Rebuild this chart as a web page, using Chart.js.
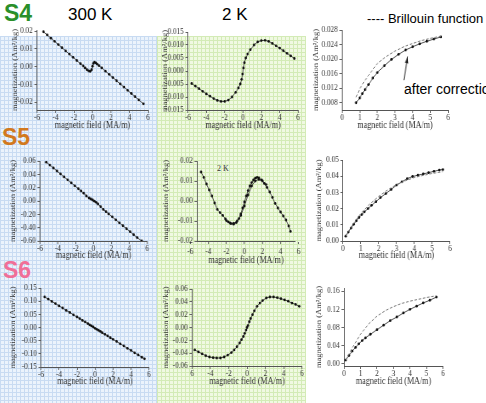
<!DOCTYPE html>
<html lang="en">
<head>
<meta charset="UTF-8">
<title>Magnetization S4 / S5 / S6</title>
<script src="https://cdn.jsdelivr.net/npm/chart.js"></script>
<style>
  body { margin: 0; width: 486px; height: 403px; position: relative; overflow: hidden; background: #fff; font-family: 'Liberation Sans', Arial, sans-serif; }
  .bg { position: absolute; top: 36px; bottom: 0; }
  #bgBlue { left: 0; width: 157px; background-color: #ebf3fc;
    background-image: linear-gradient(#c8dbf2 1px, transparent 1px), linear-gradient(90deg, #c8dbf2 1px, transparent 1px);
    background-size: 4px 4px; }
  #bgGreen { left: 157px; width: 149px; background-color: #f0f9e2;
    background-image: linear-gradient(#d3ebb6 1px, transparent 1px), linear-gradient(90deg, #d3ebb6 1px, transparent 1px);
    background-size: 4px 4px; }
  .lbl { position: absolute; white-space: nowrap; line-height: 1; }
  .big { font-size: 23px; font-weight: bold; }
  .head { font-size: 17px; color: #000; }
  .note { font-size: 13px; color: #000; }
  canvas { position: absolute; transform-origin: 0 0; }
</style>
</head>
<body>
<div class="bg" id="bgBlue"></div>
<div class="bg" id="bgGreen"></div>

<div class="lbl big" style="left:4px;top:2px;color:#2a8f2a">S4</div>
<div class="lbl big" style="left:2px;top:126px;color:#d2791e">S5</div>
<div class="lbl big" style="left:3px;top:259px;color:#f06f98">S6</div>
<div class="lbl head" style="left:68px;top:6px">300 K</div>
<div class="lbl head" style="left:222px;top:6px">2 K</div>
<div class="lbl note" style="left:367px;top:12px">---- Brillouin function</div>
<div class="lbl note" style="left:404px;top:82px;font-size:14px">after correction</div>
<div class="lbl" style="left:217px;top:164px;font:8px 'Liberation Serif',serif;color:#333">2 K</div>

<script>
// ---- tick values and labels ----
var fieldTicks = [-6, -4, -2, 0, 2, 4, 6];
var fieldLabels = ['-6', '-4', '-2', '0', '2', '4', '6'];
var fieldLabelsS6 = ['6', '-4', '-2', '0', '2', '4', '6'];
var posTicks = [0, 1, 2, 3, 4, 5, 6];
var posLabels = ['0', '1', '2', '3', '4', '5', '6'];

var s4WarmTicks = [0.02, 0.01, 0, -0.01, -0.02];
var s4WarmLabels = ['0.02', '0.01', '0.00', '-0.01', '-0.02'];
var s4ColdTicks = [0.015, 0.01, 0.005, 0, -0.005, -0.01, -0.015];
var s4ColdLabels = ['0.015', '0.010', '0.005', '0.000', '-0.005', '-0.010', '-0.015'];
var s4CorrTicks = [0.008, 0.012, 0.016, 0.020, 0.024, 0.028];
var s4CorrLabels = ['0.008', '0.012', '0.016', '0.020', '0.024', '0.028'];

var s5WarmTicks = [0.06, 0.04, 0.02, 0, -0.02, -0.04, -0.06];
var s5WarmLabels = ['0.06', '0.04', '0.02', '0.00', '-0.20', '-0.40', '-0.60'];
var s5ColdTicks = [0.02, 0.01, 0, -0.01, -0.02];
var s5ColdLabels = ['0.02', '0.01', '0.00', '-0.01', '-0.02'];
var s5CorrTicks = [0, 0.01, 0.02, 0.03, 0.04, 0.05];
var s5CorrLabels = ['0.00', '0.01', '0.02', '0.03', '0.04', '0.05'];

var s6WarmTicks = [0.15, 0.1, 0.05, 0, -0.05, -0.1, -0.15];
var s6WarmLabels = ['0.15', '0.10', '0.05', '0.00', '-0.05', '-0.10', '-0.15'];
var s6ColdTicks = [0.06, 0.04, 0.02, 0, -0.02, -0.04, -0.06];
var s6ColdLabels = ['0.06', '0.04', '0.02', '0.00', '-0.02', '-0.04', '-0.06'];
var s6CorrTicks = [0, 0.04, 0.08, 0.12, 0.16];
var s6CorrLabels = ['0.00', '0.04', '0.08', '0.12', '0.16'];

// ---- S4 ----
var s4WarmX = [-5.3,-4.9,-4.5,-4.1,-3.7,-3.3,-2.9,-2.5,-2.1,-1.7,-1.3,-1.0,-0.8,-0.6,-0.4,-0.25,-0.1,0.0,0.1,0.2,0.35,0.5,0.7,1.0,1.4,1.8,2.2,2.6,3.0,3.4,3.8,4.2,4.6,5.0,5.5];
var s4WarmY = [0.0196,0.0178,0.0160,0.0142,0.0124,0.0106,0.0088,0.0070,0.0052,0.0034,0.0016,0.0003,-0.0008,-0.0018,-0.0025,-0.0027,-0.0018,0.0002,0.0018,0.0025,0.0021,0.0014,0.0005,-0.0008,-0.0026,-0.0044,-0.0062,-0.0080,-0.0098,-0.0116,-0.0134,-0.0152,-0.0170,-0.0188,-0.0210];

var s4ColdX = [-5.6,-5.2,-4.8,-4.4,-4.0,-3.6,-3.2,-2.8,-2.4,-2.0,-1.6,-1.2,-0.8,-0.5,-0.3,-0.15,-0.05,0.05,0.15,0.3,0.5,0.8,1.2,1.6,2.0,2.4,2.8,3.2,3.6,4.0,4.4,4.8,5.2,5.6];
var s4ColdY = [-0.0048,-0.0058,-0.0068,-0.0078,-0.0088,-0.0097,-0.0106,-0.0113,-0.0117,-0.0117,-0.0112,-0.0100,-0.0082,-0.0065,-0.0050,-0.0032,-0.0012,0.0012,0.0032,0.0050,0.0065,0.0082,0.0100,0.0112,0.0117,0.0118,0.0114,0.0106,0.0097,0.0088,0.0078,0.0068,0.0058,0.0048];

var s4CorrX = [0.8,1.0,1.15,1.3,1.5,1.75,2.0,2.4,2.8,3.2,3.6,4.0,4.4,4.8,5.2,5.6];
var s4CorrY = [0.0080,0.0093,0.0105,0.0116,0.0130,0.0148,0.0163,0.0182,0.0199,0.0213,0.0225,0.0234,0.0242,0.0249,0.0255,0.0261];
var s4BrilX = [0.8,1.0,1.25,1.5,2.0,2.5,3.0,3.5,4.0,4.5,5.0,5.7];
var s4BrilY = [0.0095,0.0118,0.0138,0.0155,0.0188,0.0207,0.0222,0.0234,0.0243,0.0251,0.0257,0.0264];
var arrowFrom = [3.5, 0.0142];
var arrowTo = [3.72, 0.0207];

// ---- S5 ----
var s5WarmX = [-5.3,-4.9,-4.5,-4.1,-3.7,-3.3,-2.9,-2.5,-2.1,-1.7,-1.4,-1.1,-0.8,-0.5,-0.3,-0.1,0.1,0.3,0.5,0.8,1.1,1.4,1.7,2.1,2.5,2.9,3.3,3.7,4.1,4.5,4.9,5.4];
var s5WarmY = [0.0583,0.0539,0.0495,0.0450,0.0406,0.0361,0.0317,0.0273,0.0228,0.0184,0.0150,0.0117,0.0075,0.0045,0.0030,0.0015,-0.0002,-0.0020,-0.0045,-0.0085,-0.0127,-0.0160,-0.0194,-0.0238,-0.0283,-0.0327,-0.0371,-0.0416,-0.0460,-0.0505,-0.0549,-0.0600];

var s5ColdX = [-4.8,-4.5,-4.2,-3.9,-3.6,-3.3,-3.0,-2.7,-2.4,-2.1,-1.8,-1.5,-1.2,-0.9,-0.6,-0.4,-0.2,0.0,0.2,0.4,0.6,0.8,1.0,1.2,1.4,1.6,1.9,2.2,2.5,2.8,3.1,3.4,3.7,4.0,4.3,4.6,4.9,5.1];
var s5ColdY = [0.0145,0.0118,0.0085,0.0055,0.0025,-0.0010,-0.0042,-0.0058,-0.0072,-0.0090,-0.0104,-0.0113,-0.0116,-0.0108,-0.0088,-0.0065,-0.0035,-0.0005,0.0025,0.0052,0.0075,0.0092,0.0105,0.0114,0.0118,0.0116,0.0105,0.0088,0.0068,0.0045,0.0018,-0.0012,-0.0035,-0.0055,-0.0075,-0.0095,-0.0125,-0.0152];
var s5BackX = [-2.0,-1.6,-1.2,-0.8,-0.4,0.0,0.4,0.8,1.2,1.6,2.0,2.4];
var s5BackY = [-0.0098,-0.0110,-0.0112,-0.0100,-0.0072,-0.0025,0.0030,0.0075,0.0100,0.0108,0.0100,0.0082];

var s5CorrX = [0.15,0.3,0.45,0.6,0.75,0.9,1.05,1.2,1.4,1.6,1.85,2.1,2.4,2.7,3.0,3.3,3.6,3.9,4.2,4.5,4.8,5.1,5.4,5.6];
var s5CorrY = [0.0030,0.0055,0.0080,0.0103,0.0125,0.0145,0.0163,0.0180,0.0200,0.0220,0.0243,0.0268,0.0293,0.0318,0.0345,0.0365,0.0385,0.0398,0.0406,0.0414,0.0422,0.0430,0.0438,0.0441];
var s5BrilX = [0.15,0.5,1.0,1.5,2.0,2.5,3.0,3.5,4.0,4.5,5.0,5.6];
var s5BrilY = [0.0032,0.0095,0.0170,0.0228,0.0275,0.0315,0.0348,0.0372,0.0392,0.0405,0.0417,0.0428];

// ---- S6 ----
var s6WarmX = [-5.6,-5.2,-4.8,-4.4,-4.0,-3.6,-3.2,-2.8,-2.4,-2.0,-1.7,-1.4,-1.1,-0.8,-0.6,-0.4,-0.2,0.0,0.2,0.4,0.6,0.8,1.1,1.4,1.7,2.0,2.4,2.8,3.2,3.6,4.0,4.4,4.8,5.2,5.5];
var s6WarmY = [0.116,0.108,0.099,0.091,0.082,0.074,0.065,0.057,0.048,0.040,0.034,0.027,0.021,0.015,0.010,0.006,0.002,-0.003,-0.007,-0.011,-0.015,-0.020,-0.026,-0.032,-0.039,-0.045,-0.053,-0.062,-0.070,-0.079,-0.087,-0.096,-0.104,-0.113,-0.119];

var s6ColdX = [-5.7,-5.3,-4.9,-4.5,-4.1,-3.7,-3.3,-2.9,-2.5,-2.1,-1.7,-1.4,-1.1,-0.8,-0.6,-0.4,-0.25,-0.1,0.0,0.1,0.25,0.4,0.6,0.8,1.1,1.4,1.7,2.1,2.5,2.9,3.3,3.7,4.1,4.5,4.9,5.3,5.7];
var s6ColdY = [-0.035,-0.038,-0.041,-0.044,-0.046,-0.047,-0.0475,-0.0475,-0.046,-0.043,-0.039,-0.035,-0.030,-0.024,-0.019,-0.014,-0.009,-0.004,0.000,0.003,0.009,0.014,0.020,0.026,0.033,0.038,0.042,0.046,0.0475,0.0475,0.0465,0.045,0.043,0.041,0.038,0.036,0.033];

var s6CorrX = [0.1,0.3,0.5,0.7,0.9,1.1,1.3,1.6,2.0,2.4,2.8,3.2,3.6,4.0,4.4,4.8,5.2,5.6];
var s6CorrY = [0.008,0.018,0.028,0.036,0.044,0.051,0.057,0.065,0.075,0.085,0.095,0.103,0.112,0.120,0.127,0.134,0.140,0.147];
var s6BrilX = [0.1,0.5,1.0,1.5,2.0,2.5,3.0,3.5,4.0,4.5,5.0,5.6];
var s6BrilY = [0.008,0.035,0.065,0.088,0.105,0.117,0.126,0.133,0.138,0.142,0.146,0.150];

Chart.defaults.font.family = "'Liberation Serif', 'DejaVu Serif', serif";
Chart.defaults.color = '#333';

// the source figure is squeezed sideways, so each canvas is drawn wider and scaled back
var SX = 0.85;

function pts(xs, ys) {
    return xs.map(function (x, i) { return { x: x, y: ys[i] } })
}

function measured(xs, ys) {
    return {
        data: pts(xs, ys), showLine: true, borderColor: '#222', borderWidth: 0.8,
        pointRadius: 1.4, pointBackgroundColor: '#111', pointBorderWidth: 0
    }
}

function brillouin(xs, ys) {
    return {
        data: pts(xs, ys), showLine: true, borderColor: '#777', borderWidth: 1,
        borderDash: [3, 2], pointRadius: 0
    }
}

var arrowPlugin = {
    id: 'arrow',
    afterDatasetsDraw: function (chart) {
        var c = chart.ctx, sx = chart.scales.x, sy = chart.scales.y;
        var x0 = sx.getPixelForValue(arrowFrom[0]), y0 = sy.getPixelForValue(arrowFrom[1]);
        var x1 = sx.getPixelForValue(arrowTo[0]), y1 = sy.getPixelForValue(arrowTo[1]);
        var a = Math.atan2(y1 - y0, x1 - x0);
        c.save();
        c.strokeStyle = '#222'; c.fillStyle = '#222'; c.lineWidth = 1;
        c.beginPath(); c.moveTo(x0, y0); c.lineTo(x1, y1); c.stroke();
        c.beginPath();
        c.moveTo(x1, y1);
        c.lineTo(x1 - 7 * Math.cos(a - 0.3), y1 - 7 * Math.sin(a - 0.3));
        c.lineTo(x1 - 7 * Math.cos(a + 0.3), y1 - 7 * Math.sin(a + 0.3));
        c.closePath(); c.fill();
        c.restore();
    }
}

// box: plot area on the page (L,T,R,B), y title centre x, x label centre y, x title centre y
function panel(box, xRange, xTicks, xLabels, yRange, yTicks, yLabels, datasets, extra) {
    var cv = document.createElement('canvas');
    var left = Math.round(box.yt - 4.3);
    var top = Math.round(box.T - 8);
    var cw = Math.round((box.R + 10 - left) / SX);
    var h = Math.round(box.xt + 5 - top);
    cv.width = cw; cv.height = h;
    cv.style.left = left + 'px'; cv.style.top = top + 'px';
    cv.style.transform = 'scaleX(' + SX + ')';
    document.body.appendChild(cv);
    var yW = (box.L - left) / SX;
    var xH = h - (box.B - top);
    var xPad = Math.max(0, Math.round(box.xl - box.B - 8));

    new Chart(cv, {
        type: 'scatter',
        data: { datasets: datasets },
        options: {
            responsive: false, animation: false, devicePixelRatio: 1,
            layout: { padding: { top: box.T - top, right: cw - (box.R - left) / SX, left: 0, bottom: 0 } },
            plugins: { legend: { display: false }, tooltip: { enabled: false } },
            scales: {
                x: {
                    type: 'linear', min: xRange[0], max: xRange[1],
                    afterBuildTicks: function (s) { s.ticks = xTicks.map(function (v) { return { value: v } }) },
                    afterFit: function (s) { s.height = xH },
                    ticks: { autoSkip: false, maxRotation: 0, padding: xPad, font: { size: 8.5 },
                        callback: function (v, i) { return xLabels[i] } },
                    grid: { drawOnChartArea: false, tickLength: 3, color: '#666' },
                    border: { color: '#555' },
                    title: { display: true, text: 'magnetic field (MA/m)', font: { size: 9.5 }, padding: 0 }
                },
                y: {
                    type: 'linear', min: yRange[0], max: yRange[1],
                    afterBuildTicks: function (s) { s.ticks = yTicks.map(function (v) { return { value: v } }) },
                    afterFit: function (s) { s.width = yW },
                    ticks: { autoSkip: false, padding: 2, font: { size: 8.5 },
                        callback: function (v, i) { return yLabels[i] } },
                    grid: { drawOnChartArea: false, tickLength: 3, color: '#666' },
                    border: { color: '#555' },
                    title: { display: true, text: 'magnetization (Am²/kg)', font: { size: 8.5 }, padding: 0 }
                }
            }
        },
        plugins: extra ? [extra] : []
    })
}

// row S4
panel({ L: 37, T: 30, R: 148, B: 110, yt: 15, xl: 118, xt: 126 }, [-6, 6], fieldTicks, fieldLabels,
    [-0.0245, 0.0206], s4WarmTicks, s4WarmLabels, [measured(s4WarmX, s4WarmY)]);
panel({ L: 188, T: 32, R: 298, B: 110, yt: 165, xl: 118, xt: 126 }, [-6, 6], fieldTicks, fieldLabels,
    [-0.015, 0.015], s4ColdTicks, s4ColdLabels, [measured(s4ColdX, s4ColdY)]);
panel({ L: 342, T: 30, R: 448, B: 110, yt: 316, xl: 118, xt: 126 }, [0, 6], posTicks, posLabels,
    [0.006, 0.028], s4CorrTicks, s4CorrLabels, [brillouin(s4BrilX, s4BrilY), measured(s4CorrX, s4CorrY)], arrowPlugin);

// row S5
panel({ L: 40, T: 161, R: 147, B: 241, yt: 13, xl: 249, xt: 256 }, [-6, 6], fieldTicks, fieldLabels,
    [-0.06, 0.06], s5WarmTicks, s5WarmLabels, [measured(s5WarmX, s5WarmY)]);
panel({ L: 197, T: 161, R: 295, B: 241, yt: 166, xl: 252, xt: 261 }, [-5.25, 5.6], fieldTicks, fieldLabels,
    [-0.02, 0.02], s5ColdTicks, s5ColdLabels, [measured(s5ColdX, s5ColdY), measured(s5BackX, s5BackY)]);
panel({ L: 343, T: 160, R: 450, B: 241, yt: 319, xl: 249, xt: 256 }, [0, 6], posTicks, posLabels,
    [0, 0.05], s5CorrTicks, s5CorrLabels, [brillouin(s5BrilX, s5BrilY), measured(s5CorrX, s5CorrY)]);

// row S6
panel({ L: 41, T: 288, R: 149, B: 367, yt: 13, xl: 375, xt: 382 }, [-6, 6], fieldTicks, fieldLabels,
    [-0.15, 0.15], s6WarmTicks, s6WarmLabels, [measured(s6WarmX, s6WarmY)]);
panel({ L: 192, T: 289, R: 302, B: 366, yt: 166, xl: 374, xt: 382 }, [-6, 6], fieldTicks, fieldLabelsS6,
    [-0.06, 0.06], s6ColdTicks, s6ColdLabels, [measured(s6ColdX, s6ColdY)]);
panel({ L: 344, T: 288, R: 443, B: 366, yt: 319, xl: 374, xt: 382 }, [0, 6], posTicks, posLabels,
    [-0.005, 0.167], s6CorrTicks, s6CorrLabels, [brillouin(s6BrilX, s6BrilY), measured(s6CorrX, s6CorrY)]);
</script>
</body>
</html>
